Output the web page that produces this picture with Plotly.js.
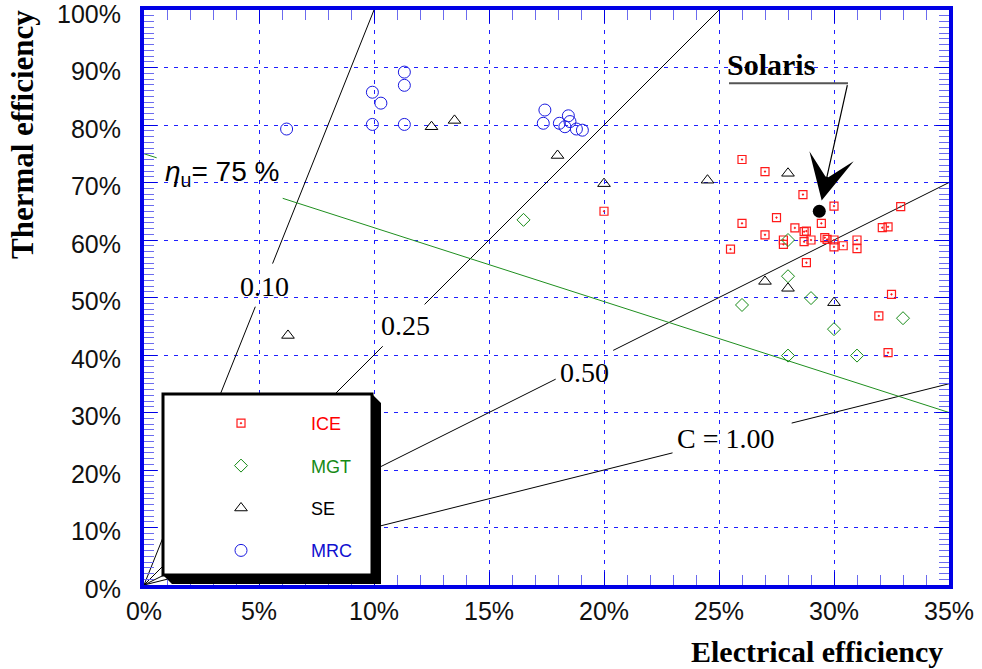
<!DOCTYPE html>
<html>
<head>
<meta charset="utf-8">
<script src="https://cdn.plot.ly/plotly-3.0.1.min.js"></script>
<style>html,body{margin:0;padding:0;background:#fff;}#chart{width:982px;height:669px;}</style>
</head>
<body>
<div id="chart"></div>
<script>
// ---- data (percent) ----
var iceX = [26.0, 27.0, 28.65, 30.0, 32.9, 26.0, 27.5, 27.0, 28.3, 28.7, 28.8, 29.45, 32.1, 32.35, 25.5, 27.8, 27.8, 28.7, 29.0, 29.6, 29.7, 30.0, 30.0, 30.4, 31.0, 31.0, 28.8, 32.5, 31.95, 32.35, 20.0];
var iceY = [74.0, 71.9, 67.9, 65.9, 65.8, 62.9, 63.9, 60.9, 62.1, 61.45, 61.55, 62.9, 62.15, 62.3, 58.4, 60.0, 59.25, 59.7, 60.0, 60.4, 60.1, 60.0, 58.8, 59.0, 60.0, 58.5, 56.05, 50.55, 46.8, 40.4, 65.0];
var mgtX = [16.5, 28.0, 28.0, 29.0, 26.0, 30.0, 33.0, 28.0, 31.0];
var mgtY = [63.5, 60.0, 53.7, 49.9, 48.7, 44.5, 46.4, 39.9, 39.9];
var seX = [6.26, 12.5, 13.5, 17.98, 20.0, 24.5, 28.0, 27.0, 28.0, 30.0];
var seY = [43.4, 79.7, 80.8, 74.7, 69.8, 70.4, 71.6, 52.8, 51.6, 49.1];
var mrcX = [6.2, 9.93, 10.3, 9.93, 11.32, 11.32, 11.32, 17.43, 17.36, 18.06, 18.45, 18.52, 18.3, 18.8, 19.06];
var mrcY = [79.3, 85.7, 83.8, 80.1, 89.2, 86.9, 80.1, 82.6, 80.3, 80.3, 81.6, 80.6, 79.7, 79.3, 79.1];
var solarisX = [29.36];
var solarisY = [65.0];

// power-to-heat ratio lines (thermal = electrical / C), with gaps where labels sit
var cValues = [0.10, 0.25, 0.50, 1.00];
var cLabels = ['0.10', '0.25', '0.50', 'C = 1.00'];
var cGapStart = [4.84, 10.38, 17.9, 22.98];
var cGapEnd = [5.59, 12.2, 20.4, 28.16];
var cLabelX = [5.26, 11.39, 19.17, 25.3];
var cLabelY = [52.0, 45.2, 36.9, 25.5];

// utilisation line eta_u = 75 %
var etaX = [0, 0.55, null, 6.03, 35];
var etaY = [75, 74.3, null, 67.25, 30];

var xMax = 35, yMax = 100;

var traces = [];
cValues.forEach(function (c, i) {
  var xEnd = Math.min(xMax, yMax * c);
  var xs = [0, cGapStart[i], null, cGapEnd[i], xEnd];
  var ys = xs.map(function (v) { return v === null ? null : v / c; });
  traces.push({x: xs, y: ys, mode: 'lines', line: {color: '#000', width: 1},
    showlegend: false, hoverinfo: 'skip', connectgaps: false});
});
traces.push({x: etaX, y: etaY, mode: 'lines', line: {color: '#1f8f1f', width: 1},
  showlegend: false, hoverinfo: 'skip', connectgaps: false});

var pad = '\u00a0\u00a0\u00a0\u00a0\u00a0\u00a0\u00a0\u00a0\u00a0\u00a0';
traces.push({x: iceX, y: iceY, mode: 'markers', name: pad + '<span style="color:#ff0000">ICE</span>',
  legendgroup: 'a', marker: {symbol: 'square-open-dot', size: 8, color: '#ff1a1a', line: {width: 1.2}}});
traces.push({x: mgtX, y: mgtY, mode: 'markers', name: pad + '<span style="color:#168a16">MGT</span>',
  legendgroup: 'b', marker: {symbol: 'diamond-open', size: 10, color: '#168a16', line: {width: 1}}});
traces.push({x: seX, y: seY, mode: 'markers', name: pad + '<span style="color:#000000">SE</span>',
  legendgroup: 'c', marker: {symbol: 'triangle-up-open', size: 11, color: '#000', line: {width: 1}}});
traces.push({x: mrcX, y: mrcY, mode: 'markers', name: pad + '<span style="color:#1010d0">MRC</span>',
  legendgroup: 'd', marker: {symbol: 'circle-open', size: 12, color: '#1a1ae0', line: {width: 1}}});
traces.push({x: solarisX, y: solarisY, mode: 'markers', showlegend: false,
  marker: {symbol: 'circle', size: 13, color: '#000'}});

// pixel -> paper helpers for decorations
var L = 144, T = 10, W = 805, H = 575;
function px(p) { return (p - L) / W; }
function py(p) { return (T + H - p) / H; }

var axisCommon = {
  showline: true, linecolor: '#0000e6', linewidth: 4, mirror: 'allticks',
  ticks: 'inside', ticklen: 13, tickcolor: '#0000e6', tickwidth: 1,
  showgrid: true, gridcolor: '#2020ff', gridwidth: 1, griddash: '4px,6px',
  zeroline: false, ticksuffix: '%', ticklabeloverflow: 'allow',
  tickfont: {family: 'Liberation Sans, Arial, sans-serif', size: 25, color: '#111'},
  minor: {dtick: 1, ticks: 'inside', ticklen: 10, tickcolor: '#6b6bef', tickwidth: 1, showgrid: false}
};

var xaxis = Object.assign({}, axisCommon, {range: [0, xMax], dtick: 5, tick0: 0, ticklabelstandoff: 1});
var yaxis = Object.assign({}, axisCommon, {range: [0, yMax], dtick: 10, tick0: 0, ticklabelstandoff: 14, ticklabelshift: 4});

var serif = 'Liberation Serif, Times New Roman, serif';
var annotations = [];
cLabels.forEach(function (t, i) {
  annotations.push({x: cLabelX[i], y: cLabelY[i], xref: 'x', yref: 'y', text: t, showarrow: false,
    font: {family: serif, size: 28, color: '#000'}, xanchor: 'center', yanchor: 'middle'});
});
annotations.push({x: 0.83, y: 71.65, xref: 'x', yref: 'y', xanchor: 'left', yanchor: 'middle', showarrow: false,
  text: '<i>η</i><sub>u</sub>= 75 %', font: {family: 'Liberation Sans, Arial, sans-serif', size: 28, color: '#000'}});
annotations.push({x: 27.26, y: 90.6, xref: 'x', yref: 'y', showarrow: false, text: '<b>Solaris</b>',
  font: {family: serif, size: 30, color: '#000'}});
annotations.push({x: solarisX[0], y: solarisY[0], xref: 'x', yref: 'y', text: '', showarrow: true,
  ax: 28.4, ay: -127.7, arrowhead: 3, arrowsize: 6.3, arrowwidth: 1.2, arrowcolor: '#000', standoff: 11});
annotations.push({x: px(22), y: py(135), xref: 'paper', yref: 'paper', textangle: -90, showarrow: false,
  text: '<b>Thermal efficiency</b>', font: {family: serif, size: 31, color: '#000'}, xanchor: 'center', yanchor: 'middle'});
annotations.push({x: px(945), y: py(651), xref: 'paper', yref: 'paper', showarrow: false,
  text: '<b>Electrical efficiency</b>', font: {family: serif, size: 30, color: '#000'}, xanchor: 'right', yanchor: 'middle'});

var bx0 = px(163), bx1 = px(372), by0 = py(575), by1 = py(394);
var shapes = [
  {type: 'path', xref: 'paper', yref: 'paper', layer: 'above', line: {width: 0}, fillcolor: '#000',
   path: 'M' + px(372) + ',' + py(394) + 'L' + px(381) + ',' + py(403) + 'L' + px(381) + ',' + py(584) +
         'L' + px(172) + ',' + py(584) + 'L' + px(163) + ',' + py(575) + 'L' + px(372) + ',' + py(575) + 'Z'},
  {type: 'rect', xref: 'paper', yref: 'paper', layer: 'above', x0: bx0, x1: bx1, y0: by0, y1: by1,
   fillcolor: '#fff', line: {color: '#000', width: 3}},
  {type: 'line', xref: 'paper', yref: 'paper', layer: 'above', x0: px(729), x1: px(848), y0: py(83.3), y1: py(83.3),
   line: {color: '#555', width: 2}}
];

var layout = {
  width: 982, height: 669,
  margin: {l: L, r: 982 - L - W, t: T, b: 669 - T - H, pad: 0},
  paper_bgcolor: '#fff', plot_bgcolor: '#fff',
  xaxis: xaxis, yaxis: yaxis,
  showlegend: true,
  legend: {x: px(221), y: py(405), xanchor: 'left', yanchor: 'top', bgcolor: 'rgba(0,0,0,0)', borderwidth: 0,
    tracegroupgap: 16, font: {family: 'Liberation Sans, Arial, sans-serif', size: 18, color: '#000'}},
  annotations: annotations,
  shapes: shapes
};

Plotly.newPlot('chart', traces, layout, {staticPlot: true, displayModeBar: false});
</script>
</body>
</html>
